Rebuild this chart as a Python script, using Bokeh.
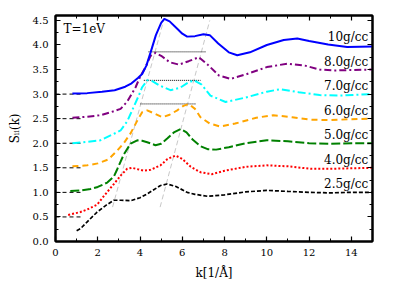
from bokeh.plotting import figure
from bokeh.models import LinearAxis, Range1d, SingleIntervalTicker, NumeralTickFormatter, ColumnDataSource
from bokeh.core.properties import value
from bokeh.embed import file_html
from bokeh.resources import INLINE

# ---- data (curves as plotted, each shifted by +0.5 from the previous) ----
k_25 = [1.0, 1.18, 1.5, 1.97, 2.4, 2.76, 3.1, 3.55, 4.0, 4.34, 4.97, 5.28, 5.7, 6.23, 6.6, 7.2, 8.0, 9.0, 10.0, 11.0, 12.07, 13.0, 14.0, 15.0]
s_25 = [0.22, 0.26, 0.4, 0.6, 0.74, 0.84, 0.84, 0.83, 0.89, 0.97, 1.14, 1.17, 1.12, 1.0, 0.96, 0.92, 0.95, 1.01, 1.04, 1.02, 1.0, 0.99, 1.0, 1.0]

k_40 = [0.6, 1.18, 1.5, 1.97, 2.3, 2.76, 3.1, 3.39, 3.63, 3.9, 4.18, 4.5, 4.97, 5.3, 5.68, 6.0, 6.4, 6.86, 7.4, 8.0, 9.0, 10.0, 11.0, 12.07, 13.0, 14.0, 15.0]
s_40 = [0.54, 0.6, 0.65, 0.75, 0.93, 1.17, 1.35, 1.48, 1.5, 1.47, 1.44, 1.46, 1.55, 1.68, 1.75, 1.68, 1.52, 1.41, 1.37, 1.44, 1.52, 1.55, 1.53, 1.48, 1.48, 1.49, 1.5]

k_50 = [0.7, 1.18, 1.66, 2.0, 2.45, 2.76, 2.92, 3.23, 3.55, 3.87, 4.1, 4.34, 4.73, 5.0, 5.3, 5.6, 5.92, 6.2, 6.5, 6.86, 7.2, 7.6, 8.2, 9.0, 10.0, 11.0, 12.0, 13.0, 14.0, 15.0]
s_50 = [1.03, 1.04, 1.07, 1.11, 1.2, 1.32, 1.47, 1.77, 1.99, 2.06, 2.05, 2.02, 1.96, 1.99, 2.1, 2.22, 2.29, 2.22, 2.07, 1.94, 1.88, 1.87, 1.92, 2.0, 2.06, 2.04, 2.0, 1.99, 2.0, 2.0]

k_60 = [0.8, 1.5, 2.0, 2.5, 2.92, 3.23, 3.55, 3.87, 4.1, 4.34, 4.7, 5.05, 5.4, 5.76, 6.05, 6.31, 6.6, 6.86, 7.3, 7.8, 8.5, 9.5, 10.3, 11.2, 12.07, 13.0, 14.0, 15.0]
s_60 = [1.53, 1.55, 1.59, 1.67, 1.85, 2.0, 2.2, 2.46, 2.63, 2.67, 2.6, 2.53, 2.58, 2.67, 2.76, 2.8, 2.7, 2.53, 2.4, 2.34, 2.4, 2.52, 2.57, 2.53, 2.48, 2.47, 2.49, 2.5]

k_70 = [0.8, 1.5, 2.13, 2.76, 3.08, 3.4, 3.7, 3.94, 4.1, 4.34, 4.6, 4.9, 5.44, 5.9, 6.3, 6.55, 6.9, 7.33, 8.05, 9.0, 10.0, 10.65, 11.5, 12.5, 13.5, 15.0]
s_70 = [2.0, 2.03, 2.06, 2.19, 2.26, 2.45, 2.74, 2.97, 3.14, 3.28, 3.26, 3.18, 3.08, 3.13, 3.24, 3.28, 3.2, 2.97, 2.84, 2.93, 3.05, 3.1, 3.04, 2.98, 2.97, 3.0]

k_80 = [0.8, 1.5, 2.13, 2.6, 3.08, 3.4, 3.79, 4.0, 4.26, 4.5, 4.73, 5.0, 5.4, 5.84, 6.3, 6.78, 7.2, 7.73, 8.28, 9.0, 10.0, 10.97, 11.8, 12.5, 13.16, 14.0, 15.0]
s_80 = [2.52, 2.54, 2.57, 2.63, 2.7, 2.85, 3.14, 3.35, 3.55, 3.78, 3.84, 3.78, 3.65, 3.6, 3.67, 3.75, 3.6, 3.38, 3.31, 3.4, 3.55, 3.62, 3.58, 3.5, 3.48, 3.49, 3.5]

k_10 = [0.8, 1.5, 2.2, 2.8, 3.3, 3.6, 3.9, 4.1, 4.3, 4.5, 4.75, 5.0, 5.15, 5.4, 5.76, 6.0, 6.23, 6.6, 7.0, 7.3, 7.7, 8.2, 8.6, 9.2, 10.0, 10.8, 11.44, 12.0, 12.9, 13.8, 15.0]
s_10 = [3.01, 3.02, 3.05, 3.08, 3.15, 3.22, 3.33, 3.41, 3.58, 3.85, 4.2, 4.45, 4.53, 4.48, 4.33, 4.23, 4.17, 4.18, 4.22, 4.2, 4.03, 3.85, 3.79, 3.85, 4.0, 4.1, 4.13, 4.08, 4.01, 3.96, 3.97]

labels = ["2.5g/cc", "4.0g/cc", "5.0g/cc", "6.0g/cc", "7.0g/cc", "8.0g/cc", "10g/cc"]
offsets = [0.0, 0.5, 1.0, 1.5, 2.0, 2.5, 3.0]

# peak-guide lines and plateau markers
guide1_k = [2.7, 5.15]
guide1_s = [0.7, 4.55]
guide2_k = [4.95, 7.3]
guide2_s = [0.7, 4.5]
plateau_y = [3.86, 3.28, 2.80]
plateau_k0 = [4.40, 4.18, 4.02]
plateau_k1 = [7.10, 6.86, 6.63]
baseline_y = [0.5, 1.0, 1.5, 2.0, 2.5, 3.0]
baseline_k = [0.0, 1.3]

SERIF = "DejaVu Serif"

p = figure(width=399, height=285, output_backend="svg", toolbar_location=None,
           x_range=Range1d(0, 15), y_range=Range1d(0, 4.6),
           min_border_left=55, min_border_right=27, min_border_top=15, min_border_bottom=44)
p.grid.visible = False
p.background_fill_color = "white"
p.border_fill_color = "white"
p.outline_line_color = "black"
p.outline_line_width = 2

# guide lines
p.line(guide1_k, guide1_s, line_color="#c8c8c8", line_width=1, line_dash="5 3")
p.line(guide2_k, guide2_s, line_color="#c8c8c8", line_width=1, line_dash="5 3")
for yv, a, b in zip(plateau_y, plateau_k0, plateau_k1):
    p.line([a, b], [yv, yv], line_color="black", line_width=1, line_dash="1 1")
for yv in baseline_y:
    p.line(baseline_k, [yv, yv], line_color="black", line_width=1, line_dash="4 3")

# curves
p.line(k_25, s_25, line_color="black", line_width=1.7, line_dash="4 2")
p.line(k_40, s_40, line_color="red", line_width=2, line_dash="2 2")
p.line(k_50, s_50, line_color="green", line_width=2, line_dash="9 3")
p.line(k_60, s_60, line_color="orange", line_width=2, line_dash="6 4")
p.line(k_70, s_70, line_color="cyan", line_width=2, line_dash="8 3 2 3")
p.line(k_80, s_80, line_color="purple", line_width=2, line_dash="7 3 2 3")
p.line(k_10, s_10, line_color="blue", line_width=2)

# curve labels
src = ColumnDataSource(dict(x=[14.8] * len(labels), y=[o + 1.02 for o in offsets], t=labels))
p.text(x="x", y="y", text="t", source=src, text_align="right", text_baseline="bottom",
       text_font=value(SERIF), text_font_size="12px", text_color="black")
p.text(x=[0.38], y=[4.46], text=["T=1eV"], text_align="left", text_baseline="top",
       text_font=value(SERIF), text_font_size="12px", text_color="black")

# axes styling
def style_axis(ax, labels_on=True):
    ax.axis_line_width = 2
    ax.axis_line_color = "black"
    ax.major_tick_in = 5
    ax.major_tick_out = 0
    ax.minor_tick_in = 3
    ax.minor_tick_out = 0
    ax.major_tick_line_width = 1.2
    ax.major_label_text_font = SERIF
    ax.major_label_text_font_size = "10px" if labels_on else "1px"
    ax.major_label_text_color = "black" if labels_on else None
    ax.major_label_standoff = 7 if labels_on else 0
    ax.axis_label_text_font = SERIF
    ax.axis_label_text_font_size = "12px"
    ax.axis_label_text_font_style = "normal"
    ax.axis_label_text_color = "black"

p.xaxis.ticker = SingleIntervalTicker(interval=2, num_minor_ticks=2)
p.yaxis.ticker = SingleIntervalTicker(interval=0.5, num_minor_ticks=2)
p.yaxis.formatter = NumeralTickFormatter(format="0.0")
p.xaxis.axis_label = "k[1/Å]"
p.yaxis.axis_label = "Sᵢᵢ(k)"
for ax in p.xaxis + p.yaxis:
    style_axis(ax)
p.xaxis.axis_label_standoff = 7
p.yaxis.axis_label_standoff = 8

top = LinearAxis(ticker=SingleIntervalTicker(interval=2, num_minor_ticks=2))
right = LinearAxis(ticker=SingleIntervalTicker(interval=0.5, num_minor_ticks=2))
style_axis(top, False)
style_axis(right, False)
p.add_layout(top, "above")
p.add_layout(right, "right")

open("out.html", "w").write(file_html(p, INLINE))
